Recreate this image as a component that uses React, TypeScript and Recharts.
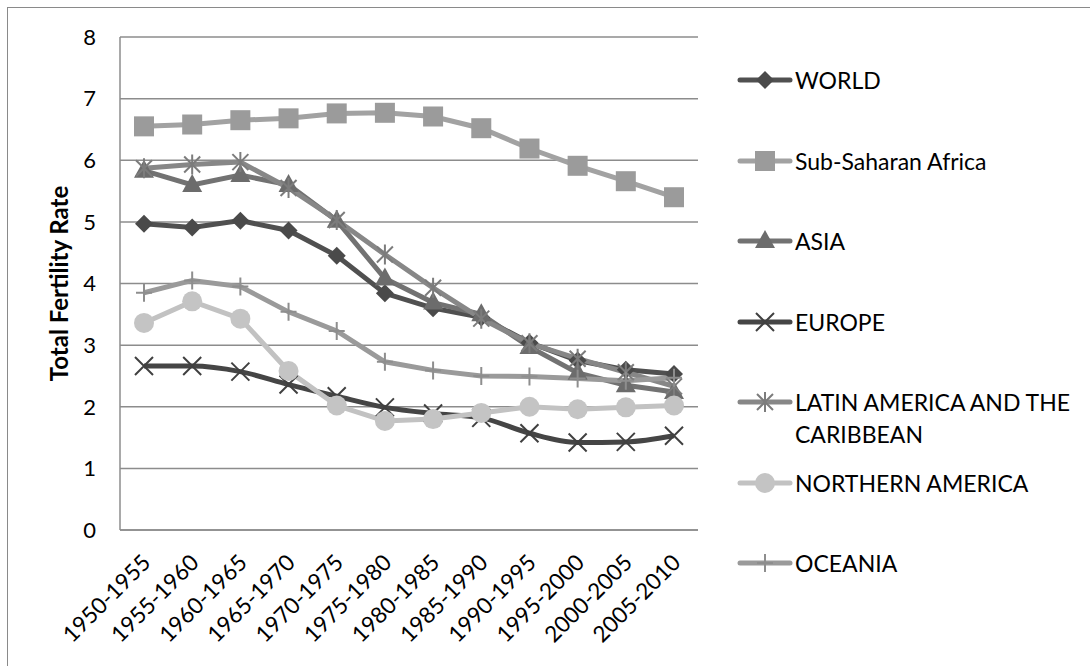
import React from 'react';
import { LineChart, Line, XAxis, YAxis, CartesianGrid, Legend } from 'recharts';

const periods = ['1950-1955', '1955-1960', '1960-1965', '1965-1970', '1970-1975', '1975-1980',
  '1980-1985', '1985-1990', '1990-1995', '1995-2000', '2000-2005', '2005-2010'];
const world = [4.97, 4.91, 5.02, 4.86, 4.45, 3.84, 3.60, 3.45, 3.04, 2.75, 2.60, 2.53];
const subSaharan = [6.55, 6.58, 6.65, 6.68, 6.76, 6.77, 6.71, 6.52, 6.19, 5.91, 5.66, 5.40];
const asia = [5.83, 5.60, 5.76, 5.60, 5.02, 4.08, 3.69, 3.50, 2.97, 2.55, 2.35, 2.24];
const europe = [2.66, 2.66, 2.57, 2.36, 2.17, 1.99, 1.89, 1.82, 1.57, 1.42, 1.43, 1.53];
const latinAmerica = [5.87, 5.93, 5.97, 5.55, 5.03, 4.47, 3.93, 3.43, 3.03, 2.78, 2.56, 2.33];
const northernAmerica = [3.36, 3.71, 3.43, 2.58, 2.02, 1.77, 1.80, 1.90, 2.00, 1.96, 1.99, 2.02];
const oceania = [3.85, 4.05, 3.95, 3.54, 3.23, 2.73, 2.59, 2.50, 2.49, 2.46, 2.42, 2.47];
const yTicks = [0, 1, 2, 3, 4, 5, 6, 7, 8];

type Shape = 'diamond' | 'square' | 'triangle' | 'x' | 'star' | 'circle' | 'plus';

const series: { key: string; name: string; values: number[]; line: string; mark: string; shape: Shape; smooth?: boolean }[] = [
  { key: 'world', name: 'WORLD', values: world, line: '#505050', mark: '#4a4a4a', shape: 'diamond' },
  { key: 'ssa', name: 'Sub-Saharan Africa', values: subSaharan, line: '#a2a2a2', mark: '#9b9b9b', shape: 'square' },
  { key: 'asia', name: 'ASIA', values: asia, line: '#727272', mark: '#6c6c6c', shape: 'triangle' },
  { key: 'europe', name: 'EUROPE', values: europe, line: '#454545', mark: '#404040', shape: 'x', smooth: true },
  { key: 'latin', name: 'LATIN AMERICA AND THE CARIBBEAN', values: latinAmerica, line: '#878787', mark: '#7c7c7c', shape: 'star' },
  { key: 'northam', name: 'NORTHERN AMERICA', values: northernAmerica, line: '#c2c2c2', mark: '#c4c4c4', shape: 'circle' },
  { key: 'oceania', name: 'OCEANIA', values: oceania, line: '#9a9a9a', mark: '#8e8e8e', shape: 'plus' },
];

const data = periods.map((p, i) => {
  const row: Record<string, string | number> = { period: p };
  series.forEach(s => { row[s.key] = s.values[i]; });
  return row;
});

const FONT = 'Lato, "Open Sans", sans-serif';

function Marker({ cx, cy, shape, color }: { cx: number; cy: number; shape: Shape; color: string }) {
  switch (shape) {
    case 'diamond':
      return <polygon points={`${cx},${cy - 9} ${cx + 9},${cy} ${cx},${cy + 9} ${cx - 9},${cy}`} fill={color} />;
    case 'square':
      return <rect x={cx - 10} y={cy - 10} width={20} height={20} fill={color} />;
    case 'triangle':
      return <polygon points={`${cx},${cy - 11} ${cx + 10},${cy + 7} ${cx - 10},${cy + 7}`} fill={color} />;
    case 'x':
      return <path d={`M${cx - 9},${cy - 9}L${cx + 9},${cy + 9}M${cx + 9},${cy - 9}L${cx - 9},${cy + 9}`} stroke={color} strokeWidth={2} />;
    case 'star':
      return <path d={`M${cx - 8},${cy - 8}L${cx + 8},${cy + 8}M${cx + 8},${cy - 8}L${cx - 8},${cy + 8}M${cx},${cy - 10}L${cx},${cy + 10}`} stroke={color} strokeWidth={2} />;
    case 'circle':
      return <circle cx={cx} cy={cy} r={10} fill={color} />;
    case 'plus':
    default:
      return <path d={`M${cx - 8},${cy}L${cx + 8},${cy}M${cx},${cy - 9}L${cx},${cy + 9}`} stroke={color} strokeWidth={2} />;
  }
}

function LegendBox() {
  return (
    <div style={{ fontFamily: FONT, fontSize: 23, color: '#000' }}>
      {series.map((s, i) => (
        <div key={s.key} style={{ position: 'absolute', left: 0, top: i * 80.5, display: 'flex', alignItems: 'flex-start' }}>
          <svg width={58} height={32} style={{ flex: 'none' }}>
            <line x1={3} y1={16} x2={53} y2={16} stroke={s.line} strokeWidth={5} strokeLinecap="round" />
            <Marker cx={28} cy={16} shape={s.shape} color={s.mark} />
          </svg>
          <div style={{ width: 288, lineHeight: '32px' }}>{s.name}</div>
        </div>
      ))}
    </div>
  );
}

function XTick(props: any) {
  const { x, y, payload } = props;
  const ax = x + 2;
  const ay = y + 20;
  return (
    <text x={ax} y={ay} transform={`rotate(-45, ${ax}, ${ay})`} textAnchor="end"
      dominantBaseline="central" fontFamily={FONT} fontSize={22.5} fill="#000">
      {payload.value}
    </text>
  );
}

export default function App() {
  return (
    <div style={{ position: 'absolute', left: 0, top: 0, width: 1090, height: 666, overflow: 'hidden', background: '#fff' }}>
      <div style={{ position: 'absolute', left: 7, top: 7, width: 1200, height: 800, border: '1.5px solid #8a8a8a' }} />
      <div style={{ position: 'absolute', left: 0, top: 0 }}>
        <LineChart width={1090} height={666} data={data} margin={{ top: 37, right: 392, bottom: 36, left: 60 }}>
          <CartesianGrid vertical={false} stroke="#8c8c8c" strokeWidth={1.5} />
          <XAxis dataKey="period" height={100} axisLine={{ stroke: '#8c8c8c', strokeWidth: 1.5 }} tickLine={false}
            interval={0} tick={<XTick />} padding={{ left: 24, right: 24 }} />
          <YAxis width={60} domain={[0, 8]} ticks={yTicks} interval={0} axisLine={{ stroke: '#8c8c8c', strokeWidth: 1.5 }}
            tickLine={false} tickSize={0} tickMargin={24}
            tick={{ fontFamily: FONT, fontSize: 22, fill: '#000' }}
            label={{ value: 'Total  Fertility Rate', angle: -90, position: 'insideLeft', offset: -1,
              style: { fontFamily: FONT, fontSize: 24, fontWeight: 'bold', fill: '#000', textAnchor: 'middle' } }} />
          <Legend content={<LegendBox />} wrapperStyle={{ left: 737, top: 64, width: 350 }} />
          {series.map(s => (
            <Line key={s.key} dataKey={s.key} name={s.name} type={s.smooth ? 'monotone' : 'linear'}
              stroke={s.line} strokeWidth={5} isAnimationActive={false}
              dot={(p: any) => <Marker key={`${s.key}-${p.index}`} cx={p.cx} cy={p.cy} shape={s.shape} color={s.mark} />}
              activeDot={false} />
          ))}
        </LineChart>
      </div>
    </div>
  );
}
